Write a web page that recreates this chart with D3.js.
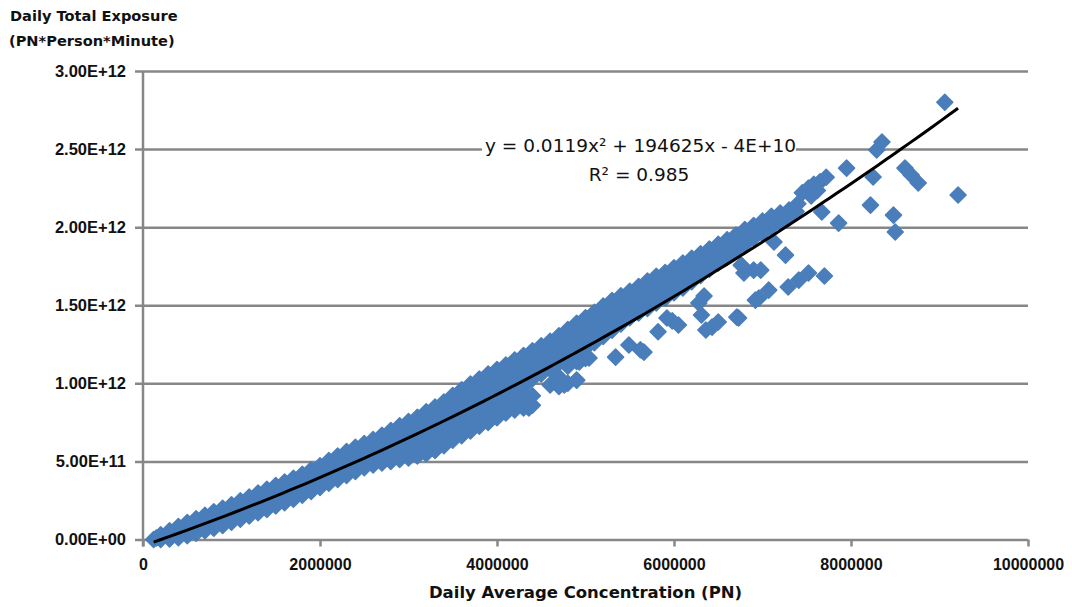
<!DOCTYPE html>
<html>
<head>
<meta charset="utf-8">
<script src="https://cdn.jsdelivr.net/npm/d3@7"></script>
<style>
  body { margin: 0; background: #fff; }
  svg { display: block; }
</style>
</head>
<body>
<div id="chart"></div>
<script>
// values: [concentration (million PN), exposure (1E12 PN*Person*Minute)]
const bandLow = [
  [0.12,0.000],[0.15,0.010],
  [0.20,0.000],[0.20,0.030],
  [0.30,0.003],[0.30,0.030],[0.30,0.056],
  [0.40,0.012],[0.40,0.048],[0.40,0.083],
  [0.50,0.025],[0.50,0.066],[0.50,0.108],
  [0.60,0.040],[0.60,0.086],[0.60,0.132],
  [0.70,0.056],[0.70,0.105],[0.70,0.155],
  [0.80,0.072],[0.80,0.125],[0.80,0.178],
  [0.90,0.090],[0.90,0.145],[0.90,0.200],
  [1.00,0.110],[1.00,0.166],[1.00,0.222],
  [1.10,0.130],[1.10,0.190],[1.10,0.248],
  [1.20,0.150],[1.20,0.210],[1.20,0.272],
  [1.30,0.172],[1.30,0.235],[1.30,0.298],
  [1.40,0.192],[1.40,0.255],[1.40,0.322],
  [1.50,0.215],[1.50,0.280],[1.50,0.345],
  [1.60,0.236],[1.60,0.300],[1.60,0.368],
  [1.70,0.258],[1.70,0.325],[1.70,0.392],
  [1.80,0.283],[1.80,0.350],[1.80,0.418],
  [1.90,0.308],[1.90,0.354],[1.90,0.400],[1.90,0.446],
  [2.00,0.333],[2.00,0.380],[2.00,0.426],[2.00,0.472]
];

const bandMid = [
  [2.10,0.360],[2.10,0.408],[2.10,0.456],[2.10,0.505],
  [2.20,0.385],[2.20,0.435],[2.20,0.485],[2.20,0.535],
  [2.30,0.410],[2.30,0.461],[2.30,0.512],[2.30,0.563],
  [2.40,0.435],[2.40,0.487],[2.40,0.538],[2.40,0.590],
  [2.50,0.460],[2.50,0.512],[2.50,0.563],[2.50,0.615],
  [2.60,0.478],[2.60,0.532],[2.60,0.586],[2.60,0.640],
  [2.70,0.490],[2.70,0.550],[2.70,0.609],[2.70,0.668],
  [2.80,0.500],[2.80,0.550],[2.80,0.600],[2.80,0.650],[2.80,0.698],
  [2.90,0.512],[2.90,0.566],[2.90,0.620],[2.90,0.674],[2.90,0.728],
  [3.00,0.522],[3.00,0.580],[3.00,0.638],[3.00,0.697],[3.00,0.755],
  [3.10,0.535],[3.10,0.597],[3.10,0.659],[3.10,0.721],[3.10,0.783],
  [3.20,0.550],[3.20,0.604],[3.20,0.658],[3.20,0.712],[3.20,0.765],[3.20,0.818],
  [3.30,0.570],[3.30,0.626],[3.30,0.681],[3.30,0.737],[3.30,0.792],[3.30,0.848],
  [3.40,0.600],[3.40,0.656],[3.40,0.712],[3.40,0.768],[3.40,0.824],[3.40,0.880],
  [3.50,0.635],[3.50,0.692],[3.50,0.750],[3.50,0.807],[3.50,0.865],[3.50,0.922],
  [3.60,0.665],[3.60,0.724],[3.60,0.782],[3.60,0.841],[3.60,0.899],[3.60,0.958],
  [3.70,0.695],[3.70,0.755],[3.70,0.815],[3.70,0.875],[3.70,0.935],[3.70,0.995],
  [3.80,0.725],[3.80,0.786],[3.80,0.846],[3.80,0.907],[3.80,0.967],[3.80,1.028],
  [3.90,0.750],[3.90,0.812],[3.90,0.874],[3.90,0.936],[3.90,0.998],[3.90,1.060],
  [4.00,0.780],[4.00,0.842],[4.00,0.903],[4.00,0.965],[4.00,1.026],[4.00,1.088]
];

const bandHigh = [
  [4.10,0.810],[4.10,0.872],[4.10,0.934],[4.10,0.996],[4.10,1.057],[4.10,1.118],
  [4.20,0.830],[4.20,0.894],[4.20,0.958],[4.20,1.022],[4.20,1.086],[4.20,1.150],
  [4.30,0.842],[4.30,0.910],[4.30,0.978],[4.30,1.045],[4.30,1.112],[4.30,1.178],
  [4.40,0.860],[4.40,0.920],[4.40,1.030],[4.40,1.090],[4.40,1.150],[4.40,1.208],
  [4.50,1.060],[4.50,1.120],[4.50,1.180],[4.50,1.240],
  [4.60,0.990],[4.60,1.090],[4.60,1.150],[4.60,1.210],[4.60,1.270],
  [4.70,0.980],[4.70,1.040],[4.70,1.130],[4.70,1.190],[4.70,1.250],[4.70,1.305],
  [4.80,1.000],[4.80,1.110],[4.80,1.170],[4.80,1.230],[4.80,1.290],[4.80,1.345],
  [4.90,1.020],[4.90,1.140],[4.90,1.200],[4.90,1.265],[4.90,1.325],[4.90,1.385],
  [5.00,1.160],[5.00,1.225],[5.00,1.290],[5.00,1.355],[5.00,1.420],
  [5.10,1.260],[5.10,1.325],[5.10,1.390],[5.10,1.455],
  [5.20,1.300],[5.20,1.365],[5.20,1.430],[5.20,1.495],
  [5.30,1.340],[5.30,1.405],[5.30,1.470],[5.30,1.530],
  [5.40,1.380],[5.40,1.440],[5.40,1.500],[5.40,1.560],
  [5.50,1.420],[5.50,1.477],[5.50,1.533],[5.50,1.590],
  [5.60,1.450],[5.60,1.507],[5.60,1.563],[5.60,1.620],
  [5.70,1.480],[5.70,1.538],[5.70,1.597],[5.70,1.655],
  [5.80,1.515],[5.80,1.572],[5.80,1.628],[5.80,1.685],
  [5.90,1.545],[5.90,1.600],[5.90,1.655],[5.90,1.710],
  [6.00,1.580],[6.00,1.633],[6.00,1.687],[6.00,1.740],
  [6.10,1.610],[6.10,1.663],[6.10,1.717],[6.10,1.770],
  [6.20,1.650],[6.20,1.700],[6.20,1.750],[6.20,1.800],
  [6.30,1.690],[6.30,1.737],[6.30,1.783],[6.30,1.830],
  [6.40,1.730],[6.40,1.795],[6.40,1.860],
  [6.50,1.770],[6.50,1.830],[6.50,1.890],
  [6.60,1.810],[6.60,1.865],[6.60,1.920],
  [6.70,1.850],[6.70,1.900],[6.70,1.950],
  [6.80,1.890],[6.80,1.940],[6.80,1.985],
  [6.90,1.930],[6.90,1.970],[6.90,2.010],
  [7.00,1.960],[7.00,2.000],[7.00,2.040],
  [7.10,2.000],[7.10,2.070],
  [7.20,2.030],[7.20,2.090],
  [7.30,2.060],[7.30,2.110],[7.38,2.100],[7.40,2.150]
];

const scatterBelow = [
  [4.23,0.893],[4.36,0.842],[4.31,0.925],
  [4.70,0.989],[4.76,0.989],[4.90,1.021],
  [4.93,1.136],[5.04,1.162],
  [5.34,1.168],[5.49,1.245],[5.62,1.215],[5.66,1.200],
  [5.82,1.330],[5.92,1.418],[5.98,1.400],[6.05,1.373],
  [6.28,1.514],[6.31,1.437],[6.34,1.559],
  [6.36,1.341],[6.43,1.360],[6.50,1.393],
  [6.71,1.424],[6.73,1.418],
  [6.92,1.533],[6.96,1.546],[7.07,1.597],
  [6.76,1.757],[6.79,1.706],[6.90,1.725],[6.98,1.725],
  [7.13,1.905],[7.26,1.821],[7.29,1.617],[7.41,1.661],[7.52,1.706],[7.70,1.687]
];

const scatterTop = [
  [7.45,2.220],[7.52,2.250],[7.55,2.200],[7.58,2.275],[7.62,2.235],[7.65,2.290],[7.72,2.320],
  [7.67,2.097],[7.86,2.026],[7.95,2.378],
  [8.22,2.141],[8.25,2.321],[8.29,2.494],[8.35,2.545],
  [8.48,2.077],[8.50,1.969],
  [8.61,2.378],[8.68,2.334],[8.76,2.283],
  [9.06,2.800],[9.21,2.206]
];

const xTicks = [0, 2, 4, 6, 8, 10];
const xTickLabels = ["0", "2000000", "4000000", "6000000", "8000000", "10000000"];
const yTicks = [0, 0.5, 1, 1.5, 2, 2.5, 3];
const yTickLabels = ["0.00E+00", "5.00E+11", "1.00E+12", "1.50E+12", "2.00E+12", "2.50E+12", "3.00E+12"];

// polynomial trendline y = a x^2 + b x + c (x in PN, y in PN*Person*Minute)
const trendCoef = [0.0119, 194625, -4e10];
const trendText = ["y = 0.0119x² + 194625x - 4E+10", "R² = 0.985"];

const points = bandLow.concat(bandMid, bandHigh, scatterBelow, scatterTop);

const width = 1072, height = 607;
const plot = { left: 143, right: 1028, top: 71, bottom: 539.5 };
const gridColor = "#878787";
const markerColor = "#4a7ebb";
const tickFont = "'Liberation Sans', Arial, sans-serif";
const titleFont = "'DejaVu Sans', sans-serif";

const svg = d3.select("#chart").append("svg")
  .attr("width", width)
  .attr("height", height)
  .style("background", "#fff");

const x = d3.scaleLinear().domain([0, 10]).range([plot.left, plot.right]);
const y = d3.scaleLinear().domain([0, 3]).range([plot.bottom, plot.top]);

// horizontal gridlines + y tick labels
const yAxis = svg.append("g")
  .attr("transform", `translate(${plot.left - 8},0)`)
  .call(d3.axisLeft(y)
    .tickValues(yTicks)
    .tickSize(-(plot.right - plot.left + 8))
    .tickPadding(9)
    .tickFormat((d, i) => yTickLabels[i]));
yAxis.select(".domain").remove();
yAxis.selectAll("line").attr("stroke", gridColor).attr("stroke-width", 2.5);
yAxis.selectAll("text")
  .attr("fill", "#111")
  .style("font-family", tickFont)
  .style("font-size", "16.5px")
  .style("font-weight", "bold");

// x ticks + labels
const xAxis = svg.append("g")
  .attr("transform", `translate(0,${plot.bottom})`)
  .call(d3.axisBottom(x)
    .tickValues(xTicks)
    .tickSize(7)
    .tickPadding(12)
    .tickFormat((d, i) => xTickLabels[i]));
xAxis.select(".domain").remove();
xAxis.selectAll("line").attr("stroke", gridColor).attr("stroke-width", 2.5);
xAxis.selectAll("text")
  .attr("fill", "#111")
  .style("font-family", tickFont)
  .style("font-size", "16px")
  .style("font-weight", "bold");

// vertical axis line
svg.append("line")
  .attr("x1", plot.left).attr("x2", plot.left)
  .attr("y1", plot.top).attr("y2", plot.bottom + 7)
  .attr("stroke", gridColor)
  .attr("stroke-width", 2.5);

// diamonds (rounded slightly, the reference is soft)
const r = 8;
const diamond = `M0,${-r}L${r},0L0,${r}L${-r},0Z`;
svg.append("g")
  .selectAll("path")
  .data(points)
  .join("path")
  .attr("d", diamond)
  .attr("transform", d => `translate(${x(d[0])},${y(d[1])})`)
  .attr("fill", markerColor)
  .attr("stroke", markerColor)
  .attr("stroke-width", 1.5)
  .attr("stroke-linejoin", "round");

// trendline across the data range
const [a, b, c] = trendCoef;
const [xMin, xMax] = d3.extent(points, d => d[0]);
const trendPts = d3.range(0, 101).map(i => {
  const xv = xMin + (xMax - xMin) * i / 100;
  const pn = xv * 1e6;
  return [xv, (a * pn * pn + b * pn + c) / 1e12];
});
svg.append("path")
  .datum(trendPts)
  .attr("fill", "none")
  .attr("stroke", "#000")
  .attr("stroke-width", 3)
  .attr("d", d3.line().x(d => x(d[0])).y(d => y(d[1])));

// equation label (white box covers the gridline like the original)
svg.append("rect")
  .attr("x", 482).attr("y", 132)
  .attr("width", 314).attr("height", 54)
  .attr("fill", "#fff");
svg.append("text")
  .attr("x", 485).attr("y", 152)
  .style("font-family", titleFont)
  .style("font-size", "18.5px")
  .attr("fill", "#111")
  .text(trendText[0]);
svg.append("text")
  .attr("x", 639).attr("y", 181)
  .attr("text-anchor", "middle")
  .style("font-family", titleFont)
  .style("font-size", "18.5px")
  .attr("fill", "#111")
  .text(trendText[1]);

// axis titles
svg.append("text")
  .attr("x", 10).attr("y", 21)
  .style("font-family", titleFont)
  .style("font-size", "14.6px")
  .style("font-weight", "bold")
  .attr("fill", "#111")
  .text("Daily Total Exposure");
svg.append("text")
  .attr("x", 9).attr("y", 46)
  .style("font-family", titleFont)
  .style("font-size", "14.6px")
  .style("font-weight", "bold")
  .attr("fill", "#111")
  .text("(PN*Person*Minute)");
svg.append("text")
  .attr("x", (plot.left + plot.right) / 2).attr("y", 598)
  .attr("text-anchor", "middle")
  .style("font-family", titleFont)
  .style("font-size", "16.5px")
  .style("font-weight", "bold")
  .attr("fill", "#111")
  .text("Daily Average Concentration (PN)");
</script>
</body>
</html>
